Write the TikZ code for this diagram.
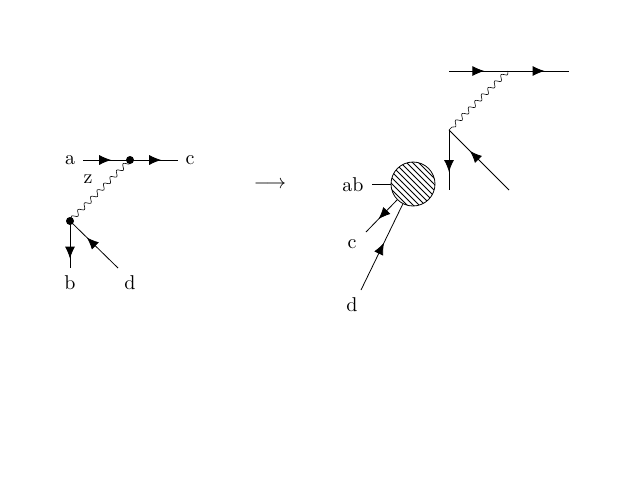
\documentclass[tikz,border=0pt]{standalone}
\usetikzlibrary{decorations.markings,decorations.pathmorphing,arrows.meta,patterns}
\begin{document}
\begin{tikzpicture}[x=0.5pt,y=0.5pt,
  fline/.style={draw,line width=0.4pt},
  arr/.style={postaction={decorate},decoration={markings,mark=at position #1 with {\arrow{Latex[length=6pt,width=5pt]}}}},
  wavy/.style={draw,line width=0.3pt,decorate,decoration={snake,amplitude=1.2pt,segment length=4.6pt}},
  lbl/.style={inner sep=1pt},
  dot/.style={circle,fill,inner sep=0pt,minimum size=4pt}]
\useasboundingbox (0,0) rectangle (642,-488);
% left
\node[lbl] (a) at (70,-160) {a};
\node[lbl] (c) at (190,-160) {c};
\node[lbl] (z) at (88,-179) {z};
\node[lbl] (b) at (70,-283) {b};
\node[lbl] (d) at (130,-283) {d};
\node[dot] (v1) at (130,-160) {};
\node[dot] (v2) at (70,-221) {};
\coordinate (a1) at (83,-160);
\coordinate (c1) at (178,-160);
\coordinate (b1) at (70,-268);
\coordinate (d1) at (118,-268);
\draw[fline,arr=0.6] (a1) -- (v1.center);
\draw[fline,arr=0.65] (v1.center) -- (c1);
\draw[wavy] (v1.center) -- (v2.center);
\draw[fline,arr=0.8] (v2.center) -- (b1);
\draw[fline,arr=0.65] (d1) -- (v2.center);
\node (to) at (270,-185) {$\longrightarrow$};
% right
\coordinate (t1) at (449,-71);
\coordinate (tm) at (508,-71);
\coordinate (t2) at (569,-71);
\coordinate (w) at (449,-130);
\coordinate (wb) at (449,-190);
\coordinate (wd) at (509,-190);
\draw[fline,arr=0.6] (t1) -- (tm);
\draw[fline,arr=0.6] (tm) -- (t2);
\draw[wavy] (tm) -- (w);
\draw[fline,arr=0.7] (w) -- (wb);
\draw[fline,arr=0.65] (wd) -- (w);
\node[circle,draw,line width=0.4pt,minimum size=22pt,inner sep=0pt,pattern=north west lines] (blob) at (413,-184) {};
\node[lbl] (ab) at (353,-185) {ab};
\coordinate (abe) at (372,-184);
\draw[fline] (abe) -- (blob.west);
\node[lbl] (c2) at (352,-244) {c};
\node[lbl] (d2) at (352,-305) {d};
\coordinate (cc) at (366,-232);
\coordinate (dd) at (361,-290);
\draw[fline,arr=0.6] (blob.225) -- (cc);
\draw[fline,arr=0.55] (dd) -- (blob.243);
\end{tikzpicture}
\end{document}
